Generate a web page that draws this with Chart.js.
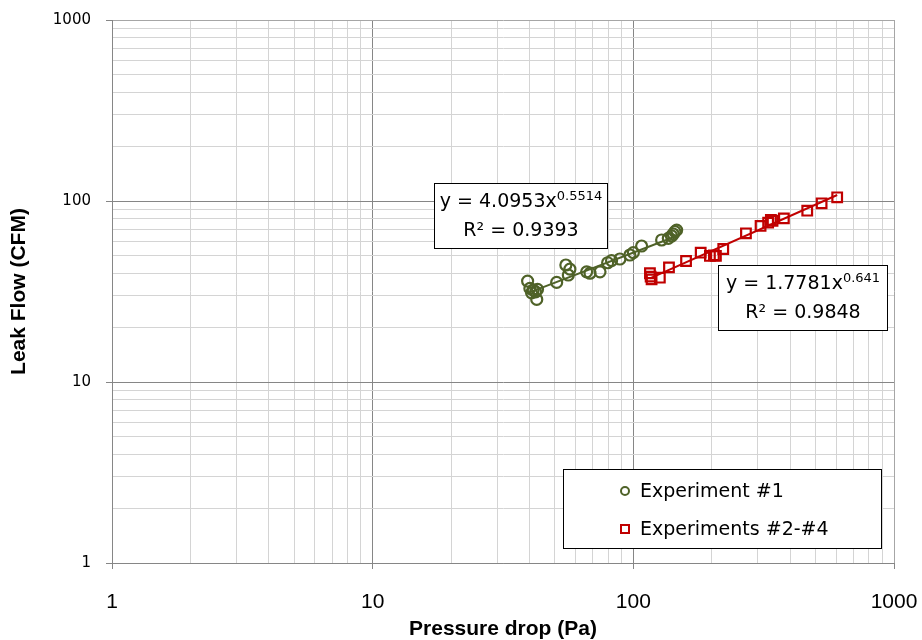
<!DOCTYPE html>
<html><head><meta charset="utf-8">
<script src="https://cdn.jsdelivr.net/npm/chart.js@4.4.0/dist/chart.umd.min.js"></script>
<style>html,body{margin:0;padding:0;background:#fff}canvas{display:block}</style>
</head><body>
<canvas id="c" width="922" height="640"></canvas>
<script>
// ---- data ----
const exp1Pressure = [39.3, 40.1, 41.3, 42.2, 42.9, 40.7, 42.6, 50.8, 55.1, 56.3, 57.1, 66.2, 68.2, 74.5, 79.7, 82.5, 88.8, 97.0, 100.0, 107.6, 128.4, 136.2, 140.3, 142.3, 144.4, 146.6];
const exp1Flow     = [36.1, 32.9, 32.2, 31.5, 32.5, 31.1, 28.6, 35.5, 44.3, 39.0, 42.0, 40.6, 39.9, 40.6, 45.6, 46.8, 47.8, 50.3, 51.8, 56.4, 60.9, 62.2, 64.1, 65.7, 67.7, 69.1];
const exp24Pressure = [115.8, 116.5, 117.5, 126.4, 137.0, 159.3, 181.3, 196.7, 203.8, 207.4, 221.3, 270.4, 307.7, 329.0, 337.0, 342.0, 378.0, 464.7, 527.6, 605.4];
const exp24Flow     = [39.9, 38.2, 36.9, 37.7, 43.0, 46.6, 51.8, 49.7, 50.1, 49.7, 54.3, 66.3, 72.8, 75.9, 78.6, 77.8, 80.2, 88.4, 97.1, 104.8];
const trend1Pressure = [39.3, 146.6];
const trend1Flow     = [31.0, 64.1];
const trend24Pressure = [115.8, 605.4];
const trend24Flow     = [37.4, 107.9];
const seriesNames = ['Experiment #1', 'Experiments #2-#4'];
const fit1Text = ['y = 4.0953x', '0.5514', 'R² = 0.9393'];
const fit24Text = ['y = 1.7781x', '0.641', 'R² = 0.9848'];
const majorTicks = [1, 10, 100, 1000];
const gridValues = [1,2,3,4,5,6,7,8,9,10,20,30,40,50,60,70,80,90,100,200,300,400,500,600,700,800,900,1000];
const xTitle = 'Pressure drop (Pa)';
const yTitle = 'Leak Flow (CFM)';

const GREEN = '#4F6228';
const RED = '#C00000';
const FONT = "'Liberation Sans', Arial, sans-serif";
const WIDE = "'DejaVu Sans', Verdana, sans-serif";

function pts(xs, ys){ return xs.map((x,i)=>({x:x, y:ys[i]})); }

function gridColor(ctx){
  const v = ctx.tick && ctx.tick.value;
  if (v === 1000) return '#a6a6a6';
  return majorTicks.includes(v) ? '#868686' : '#d4d4d4';
}
function tickColor(ctx){
  const v = ctx.tick && ctx.tick.value;
  return majorTicks.includes(v) ? '#868686' : 'rgba(0,0,0,0)';
}

function drawFitBox(ctx, x, y, w, h, t){
  ctx.save();
  ctx.fillStyle = '#fff';
  ctx.fillRect(x, y, w, h);
  ctx.strokeStyle = '#000';
  ctx.lineWidth = 1;
  ctx.strokeRect(x, y, w, h);
  ctx.fillStyle = '#000';
  ctx.textBaseline = 'middle';
  const big = '19px ' + WIDE, small = '13px ' + WIDE;
  ctx.font = big; const w1 = ctx.measureText(t[0]).width;
  ctx.font = small; const w2 = ctx.measureText(t[1]).width;
  let sx = x + w/2 - (w1 + w2)/2;
  ctx.font = big; ctx.textAlign = 'left';
  ctx.fillText(t[0], sx, y + 19);
  ctx.font = small;
  ctx.fillText(t[1], sx + w1, y + 13);
  ctx.font = big; ctx.textAlign = 'center';
  ctx.fillText(t[2], x + w/2, y + 48);
  ctx.restore();
}

const extras = {
  id: 'extras',
  afterDraw(chart){
    const ctx = chart.ctx;
    drawFitBox(ctx, 434.5, 183.5, 173, 65, fit1Text);
    drawFitBox(ctx, 718.5, 265.5, 169, 65, fit24Text);
    // legend
    ctx.save();
    ctx.fillStyle = '#fff';
    ctx.fillRect(563.5, 469.5, 318, 79);
    ctx.strokeStyle = '#000'; ctx.lineWidth = 1;
    ctx.strokeRect(563.5, 469.5, 318, 79);
    ctx.lineWidth = 2;
    ctx.strokeStyle = GREEN;
    ctx.beginPath(); ctx.arc(625, 491, 4, 0, Math.PI*2); ctx.stroke();
    ctx.strokeStyle = RED;
    ctx.strokeRect(621, 525, 8, 8);
    ctx.fillStyle = '#000';
    ctx.font = '19px ' + WIDE; ctx.textBaseline = 'middle'; ctx.textAlign = 'left';
    ctx.fillText(seriesNames[0], 640, 492);
    ctx.fillText(seriesNames[1], 640, 530);
    ctx.restore();
  }
};

new Chart(document.getElementById('c'), {
  type: 'scatter',
  data: {
    datasets: [
      { label: 'trend1', data: pts(trend1Pressure, trend1Flow), showLine: true, borderColor: GREEN, borderWidth: 2, pointRadius: 0, order: 2 },
      { label: 'trend24', data: pts(trend24Pressure, trend24Flow), showLine: true, borderColor: RED, borderWidth: 2, pointRadius: 0, order: 2 },
      { label: seriesNames[0], data: pts(exp1Pressure, exp1Flow), pointStyle: 'circle', pointRadius: 5.5, borderColor: GREEN, backgroundColor: 'rgba(0,0,0,0)', borderWidth: 2.2, order: 1 },
      { label: seriesNames[1], data: pts(exp24Pressure, exp24Flow), pointStyle: 'rect', pointRadius: 6.8, borderColor: RED, backgroundColor: 'rgba(0,0,0,0)', borderWidth: 2.2, order: 1 }
    ]
  },
  options: {
    responsive: false,
    animation: false,
    layout: { padding: { top: 20, right: 28, left: 0, bottom: 0 } },
    plugins: { legend: { display: false }, tooltip: { enabled: false } },
    scales: {
      x: {
        type: 'logarithmic', min: 1, max: 1000,
        afterBuildTicks: s => { s.ticks = gridValues.map(v => ({ value: v, major: majorTicks.includes(v) })); },
        afterFit: s => { s.height = 77; s.paddingLeft = 0; s.paddingRight = 0; s.paddingTop = 0; s.paddingBottom = 0; },
        grid: { color: gridColor, tickColor: tickColor, tickLength: 6, lineWidth: 1 },
        border: { color: '#868686', width: 1 },
        ticks: { autoSkip: false, maxRotation: 0, padding: 21, color: '#000', font: { family: FONT, size: 21 },
          callback: v => majorTicks.includes(v) ? String(v) : '' },
        title: { display: true, text: xTitle, color: '#000', font: { family: FONT, size: 21, weight: 'bold', lineHeight: 1 }, padding: { top: 0, bottom: 0 } }
      },
      y: {
        type: 'logarithmic', min: 1, max: 1000,
        afterBuildTicks: s => { s.ticks = gridValues.map(v => ({ value: v, major: majorTicks.includes(v) })); },
        afterFit: s => { s.width = 112; s.paddingLeft = 0; s.paddingRight = 0; s.paddingTop = 0; s.paddingBottom = 0; },
        grid: { color: gridColor, tickColor: tickColor, tickLength: 6, lineWidth: 1 },
        border: { color: '#868686', width: 1 },
        ticks: { autoSkip: false, padding: 15, color: '#000', font: { family: WIDE, size: 15 },
          callback: v => majorTicks.includes(v) ? String(v) : '' },
        title: { display: true, text: yTitle, color: '#000', font: { family: FONT, size: 21, weight: 'bold' }, padding: { top: 7, bottom: 0 } }
      }
    }
  },
  plugins: [extras]
});
</script>
</body></html>
